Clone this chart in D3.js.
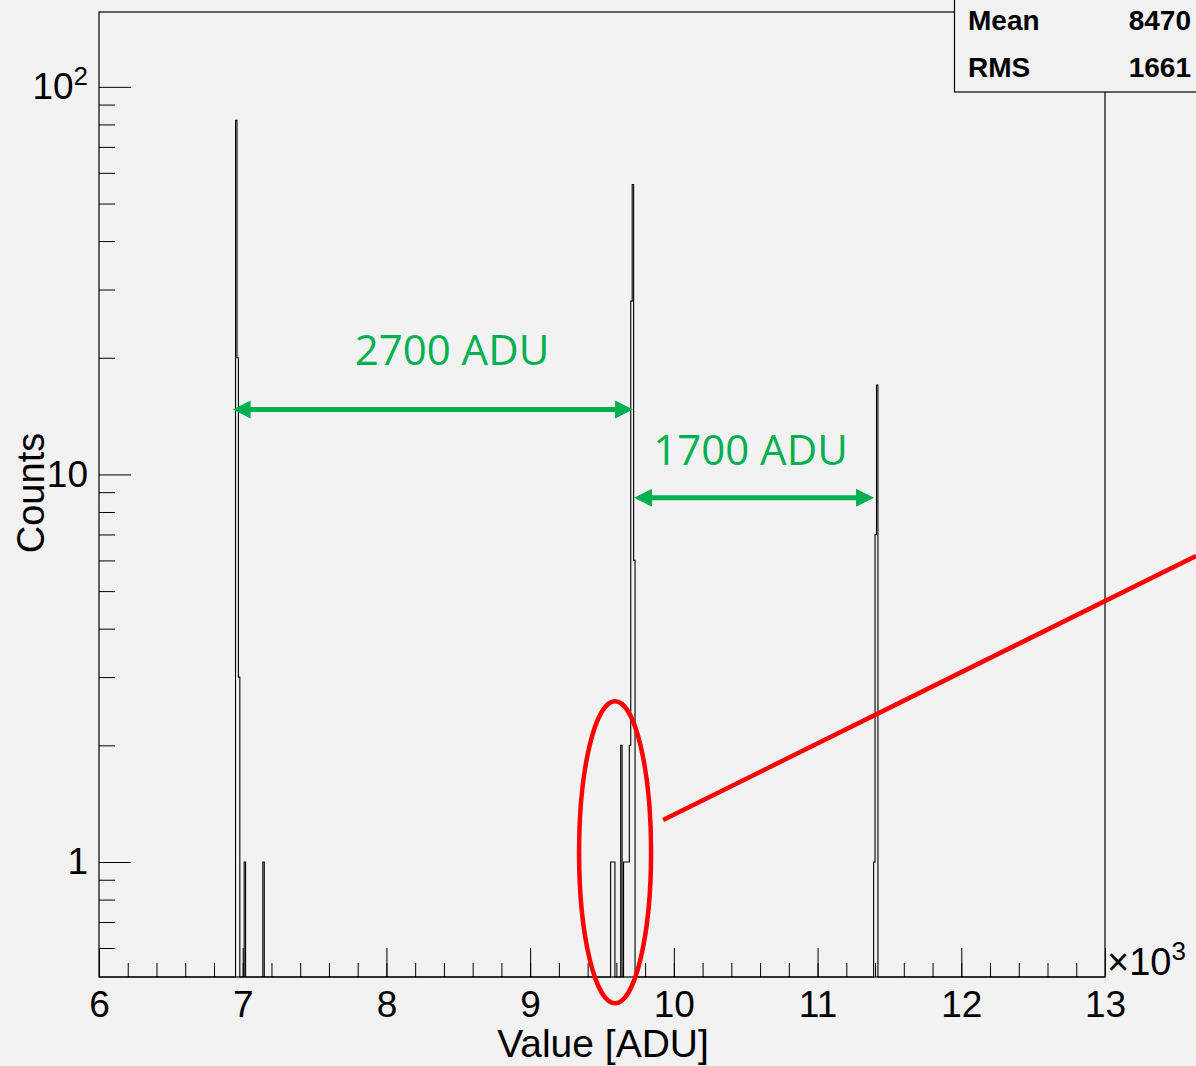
<!DOCTYPE html>
<html>
<head>
<meta charset="utf-8">
<script src="https://cdn.jsdelivr.net/npm/d3@7"></script>
<style>
body { margin: 0; background: #f2f2f2; }
</style>
</head>
<body>
<svg id="chart" width="1196" height="1066"></svg>
<script>
// histogram: lower bin edge [ADU] and counts, 10 ADU bins, empty bins not listed
var binStarts = [6950, 6960, 6970, 7010, 7140,
    9560, 9570, 9580, 9630, 9650, 9660, 9670, 9680, 9690, 9700, 9710, 9720,
    11390, 11400, 11410];
var binCounts = [82, 20, 3, 1, 1,
    1, 1, 1, 2, 1, 1, 1, 1, 2, 28, 56, 6,
    1, 7, 17];
var binWidth = 10;

var xDomain = [6000, 13000];
var yDomain = [0.505, 156];
var yMajor = [1, 10, 100];
var yMinor = [0.6, 0.7, 0.8, 0.9, 2, 3, 4, 5, 6, 7, 8, 9, 20, 30, 40, 50, 60, 70, 80, 90];

var statNames = ["Mean", "RMS"];
var statValues = ["8470", "1661"];

// gap annotations (in ADU / counts)
var gapLabels = ["2700 ADU", "1700 ADU"];
var gapFrom = [6930, 9723];
var gapTo = [9716, 11393];
var gapLevel = [14.7, 8.7];
var gapTextAt = [8456, 10533];
var gapTextLevel = [19.2, 10.6];

// red marker round the small cluster, and the pointer line
var ringAt = [9591, 1.06];
var pointerFrom = [9925, 1.284];
var pointerTo = [13633, 6.16];


function Chart() {
    var self = this;
    self.init();
}

Chart.prototype.init = function () {

    var self = this;

    var svg = d3.select("#chart");
    var left = 99, right = 1105, top = 12, bottom = 977;
    var font = "'Liberation Sans', Arial, Helvetica, sans-serif";
    var green = "#00b050";

    var x = d3.scaleLinear().domain(xDomain).range([left, right]);
    var y = d3.scaleLog().domain(yDomain).range([bottom, top]);

    // full list of bins, zero where nothing was counted
    var lookup = {};
    binStarts.forEach(function (b, i) { lookup[b] = binCounts[i]; });
    var bins = d3.range(xDomain[0], xDomain[1], binWidth).map(function (b) {
        return { start: b, count: lookup[b] || 0 };
    });
    var pts = bins.map(function (d) { return [d.start, d.count]; });
    pts.push([xDomain[1], 0]);

    var line = d3.line()
        .x(function (d) { return x(d[0]); })
        .y(function (d) { return d[1] > 0 ? y(d[1]) : bottom; })
        .curve(d3.curveStepAfter);

    svg.append("path")
        .datum(pts)
        .attr("d", line)
        .attr("fill", "none")
        .attr("stroke", "#000")
        .attr("stroke-width", 1.1);

    // frame
    svg.append("rect")
        .attr("x", left).attr("y", top)
        .attr("width", right - left).attr("height", bottom - top)
        .attr("fill", "none").attr("stroke", "#000").attr("stroke-width", 1.2);

    // x axis
    var gx = svg.append("g").attr("transform", "translate(0," + bottom + ")");
    gx.call(d3.axisBottom(x).tickValues(d3.range(6000, 13001, 200)).tickSize(-14).tickSizeOuter(0).tickFormat(""));
    gx.append("g").call(d3.axisBottom(x).tickValues(d3.range(6000, 13001, 1000)).tickSize(-29).tickSizeOuter(0)
        .tickPadding(14).tickFormat(function (d) { return d / 1000; }));
    gx.selectAll(".domain").remove();
    gx.selectAll("text").attr("font-size", 37).attr("font-family", font).attr("fill", "#000");

    // y axis
    var gy = svg.append("g").attr("transform", "translate(" + left + ",0)");
    gy.call(d3.axisLeft(y).tickValues(yMinor).tickSize(-16).tickSizeOuter(0).tickFormat(""));
    gy.append("g").call(d3.axisLeft(y).tickValues(yMajor).tickSize(-32).tickSizeOuter(0).tickPadding(11)
        .tickFormat(function (d) { return d; }));
    gy.selectAll(".domain").remove();
    gy.selectAll("text").attr("font-size", 37).attr("font-family", font).attr("fill", "#000")
        .each(function (d) {
            if (d === 100) {
                var t = d3.select(this).text("10");
                t.append("tspan").attr("font-size", 26).attr("dy", "-0.55em").text("2");
            }
        });

    // x10^3
    var mult = svg.append("text")
        .attr("x", right + 2).attr("y", bottom - 2)
        .attr("font-size", 38).attr("font-family", font);
    mult.append("tspan").text("\u00d710");
    mult.append("tspan").attr("font-size", 26).attr("dy", -15).text("3");

    // axis titles
    svg.append("text")
        .attr("x", 603).attr("y", 1057)
        .attr("text-anchor", "middle")
        .attr("font-size", 39).attr("font-family", font)
        .text("Value [ADU]");

    svg.append("text")
        .attr("transform", "translate(44,493) rotate(-90)")
        .attr("text-anchor", "middle")
        .attr("font-size", 38).attr("font-family", font)
        .text("Counts");

    // stats box
    svg.append("rect")
        .attr("x", 954.5).attr("y", -20)
        .attr("width", 300).attr("height", 112)
        .attr("fill", "#f2f2f2").attr("stroke", "#000").attr("stroke-width", 1.2);

    statNames.forEach(function (n, i) {
        svg.append("text")
            .attr("x", 968).attr("y", 30 + i * 47)
            .attr("font-size", 28).attr("font-weight", "bold").attr("font-family", font)
            .text(n);
        svg.append("text")
            .attr("x", 1191).attr("y", 30 + i * 47)
            .attr("text-anchor", "end")
            .attr("font-size", 28).attr("font-weight", "bold").attr("font-family", font)
            .text(statValues[i]);
    });

    // green double arrows and labels
    var head = 18, half = 9;
    gapLabels.forEach(function (lab, i) {
        var x1 = x(gapFrom[i]), x2 = x(gapTo[i]), yy = y(gapLevel[i]);
        svg.append("line")
            .attr("x1", x1 + head - 2).attr("x2", x2 - head + 2)
            .attr("y1", yy).attr("y2", yy)
            .attr("stroke", green).attr("stroke-width", 5);
        svg.append("path")
            .attr("d", "M" + x1 + "," + yy + "L" + (x1 + head) + "," + (yy - half) + "L" + (x1 + head) + "," + (yy + half) + "Z")
            .attr("fill", green);
        svg.append("path")
            .attr("d", "M" + x2 + "," + yy + "L" + (x2 - head) + "," + (yy - half) + "L" + (x2 - head) + "," + (yy + half) + "Z")
            .attr("fill", green);
        svg.append("text")
            .attr("x", x(gapTextAt[i])).attr("y", y(gapTextLevel[i]))
            .attr("text-anchor", "middle")
            .attr("font-size", 42).attr("font-family", "'Open Sans', 'Noto Sans', sans-serif")
            .attr("fill", green)
            .text(lab);
    });

    // red ring and pointer
    svg.append("ellipse")
        .attr("cx", x(ringAt[0])).attr("cy", y(ringAt[1]))
        .attr("rx", 36).attr("ry", 151)
        .attr("fill", "none").attr("stroke", "#ff0000").attr("stroke-width", 4.5);

    svg.append("line")
        .attr("x1", x(pointerFrom[0])).attr("y1", y(pointerFrom[1]))
        .attr("x2", x(pointerTo[0])).attr("y2", y(pointerTo[1]))
        .attr("stroke", "#ff0000").attr("stroke-width", 4.5);
}

new Chart();
</script>
</body>
</html>
